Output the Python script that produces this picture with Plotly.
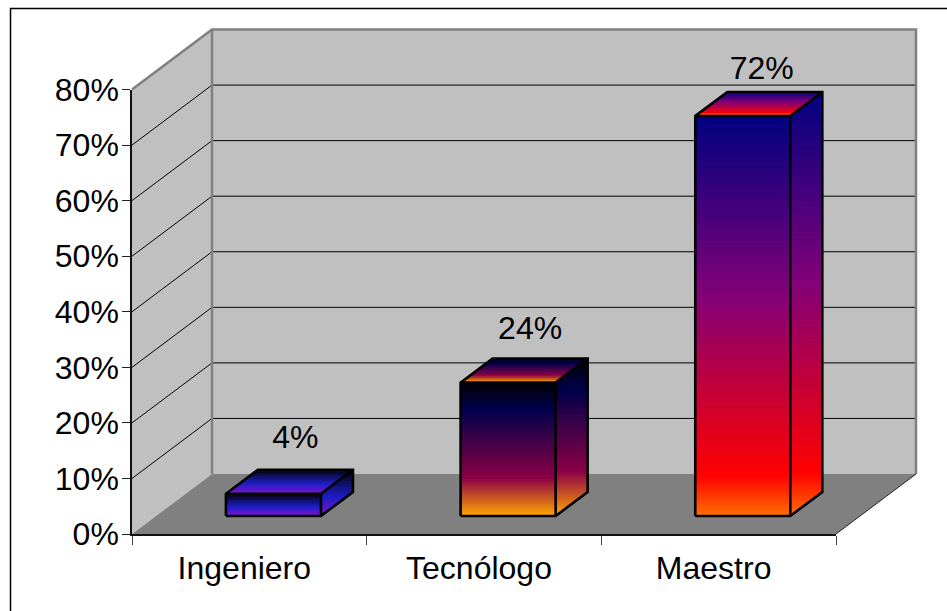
import plotly.graph_objects as go

# Values shown on the chart
categories = ["Ingeniero", "Tecnólogo", "Maestro"]
shares = [4, 24, 72]
value_ticks = [0, 10, 20, 30, 40, 50, 60, 70, 80]
value_tick_labels = ["0%", "10%", "20%", "30%", "40%", "50%", "60%", "70%", "80%"]

# Gradient stops (offset, rgb) for each column's faces
ingeniero_stops = [(0.0, (0, 0, 0)), (0.6, (30, 30, 200)), (1.0, (125, 20, 200))]
tecnologo_stops = [(0.0, (0, 0, 0)), (0.2, (0, 0, 75)), (0.72, (140, 0, 70)), (1.0, (255, 165, 0))]
maestro_stops = [(0.0, (0, 0, 128)), (0.45, (130, 0, 120)), (0.9, (255, 0, 0)), (1.0, (255, 110, 0))]
column_stops = [ingeniero_stops, tecnologo_stops, maestro_stops]

WALL = "#c0c0c0"
FLOOR = "#808080"
FONT = "Liberation Sans"
FONT_SIZE = 32

# Pixel scale of the front plane of the box
W, H = 947, 611
PX_PER_CAT = 234.67
PX_PER_PCT = 5.556
ML, MR, MT, MB = 127, 26, 25, 72
X0_PX, Y0_PX = 132, 534
# Oblique projection: how far one full unit of depth moves a point
DEPTH_X = 80 / PX_PER_CAT
DEPTH_Y = 60 / PX_PER_PCT
# Column placement inside a category slot
BAR_LEFT = 0.298
BAR_WIDTH = 0.405
BAR_D0 = 0.3
BAR_D1 = 0.7
# Per-label offsets in pixels (right, up) from the column's top back edge
LABEL_NUDGE = [(-13, 14), (-13, 12), (-16, 5)]
CAT_LABEL_SHIFT = -5 / PX_PER_CAT
N_CATS = len(categories)
VMAX = value_ticks[-1]

x_range = [(ML - X0_PX) / PX_PER_CAT, (W - MR - X0_PX) / PX_PER_CAT]
y_range = [(Y0_PX - (H - MB)) / PX_PER_PCT, (Y0_PX - MT) / PX_PER_PCT]


def project(cat, value, depth):
    """Map a box position (category, value, depth 0..1) to the plotting plane."""
    return cat + depth * DEPTH_X, value + depth * DEPTH_Y


def shade(stops, t):
    for (t0, c0), (t1, c1) in zip(stops, stops[1:]):
        if t <= t1:
            f = (t - t0) / (t1 - t0)
            rgb = [round(a + (b - a) * f) for a, b in zip(c0, c1)]
            return "rgb({},{},{})".format(*rgb)
    return "rgb({},{},{})".format(*stops[-1][1])


def clip_poly(poly, ylo, yhi):
    """Clip a convex polygon to the horizontal band ylo..yhi."""
    def clip(points, keep, cross):
        out = []
        for i, p in enumerate(points):
            q = points[(i + 1) % len(points)]
            if keep(p):
                out.append(p)
            if keep(p) != keep(q):
                f = (cross - p[1]) / (q[1] - p[1])
                out.append((p[0] + (q[0] - p[0]) * f, cross))
        return out
    band = clip(poly, lambda p: p[1] >= ylo, ylo)
    return clip(band, lambda p: p[1] <= yhi, yhi) if band else []


fig = go.Figure()


def polygon(points, fill, line=None, width=0):
    xs = [p[0] for p in points] + [points[0][0]]
    ys = [p[1] for p in points] + [points[0][1]]
    fig.add_trace(go.Scatter(
        x=xs, y=ys, mode="lines", fill="toself", fillcolor=fill,
        line=dict(color=line or fill, width=width),
        hoverinfo="skip", showlegend=False,
    ))


def polyline(segments, color, width):
    xs, ys = [], []
    for seg in segments:
        xs += [p[0] for p in seg] + [None]
        ys += [p[1] for p in seg] + [None]
    fig.add_trace(go.Scatter(
        x=xs, y=ys, mode="lines", line=dict(color=color, width=width),
        hoverinfo="skip", showlegend=False,
    ))


def gradient_face(points, stops):
    """Fill a face with horizontal bands running top to bottom over its extent."""
    ys = [p[1] for p in points]
    lo, hi = min(ys), max(ys)
    n = max(8, min(130, int((hi - lo) * PX_PER_PCT / 2)))
    for i in range(n):
        yhi = hi - (hi - lo) * i / n
        ylo = hi - (hi - lo) * (i + 1) / n
        band = clip_poly(points, ylo, yhi)
        if len(band) >= 3:
            polygon(band, shade(stops, (i + 0.5) / n), width=1)


# Walls and floor of the box
polygon([project(0, 0, 0), project(0, VMAX, 0), project(0, VMAX, 1), project(0, 0, 1)], WALL)
polygon([project(0, 0, 1), project(0, VMAX, 1), project(N_CATS, VMAX, 1), project(N_CATS, 0, 1)], WALL)
polygon([project(0, 0, 0), project(0, 0, 1), project(N_CATS, 0, 1), project(N_CATS, 0, 0)], FLOOR)

# Gridlines across the side and back walls
grid = []
for v in value_ticks[1:-1]:
    grid.append([project(0, v, 0), project(0, v, 1), project(N_CATS, v, 1)])
polyline(grid, "black", 1)

# Wall edges
polyline([[project(0, VMAX, 0), project(0, VMAX, 1), project(N_CATS, VMAX, 1), project(N_CATS, 0, 1)],
          [project(0, VMAX, 1), project(0, 0, 1)]], FLOOR, 2.5)
polyline([[project(N_CATS, 0, 1), project(N_CATS, 0, 0)]], "#202020", 1)

# Columns
for i, (share, stops) in enumerate(zip(shares, column_stops)):
    left = i + BAR_LEFT
    right = left + BAR_WIDTH
    fbl = project(left, 0, BAR_D0)
    fbr = project(right, 0, BAR_D0)
    ftl = project(left, share, BAR_D0)
    ftr = project(right, share, BAR_D0)
    btl = project(left, share, BAR_D1)
    btr = project(right, share, BAR_D1)
    bbr = project(right, 0, BAR_D1)

    gradient_face([fbl, ftl, ftr, fbr], stops)
    gradient_face([fbr, ftr, btr, bbr], stops)
    gradient_face([ftl, btl, btr, ftr], stops)
    polyline([[fbl, ftl, btl, btr, bbr, fbr, fbl], [ftl, ftr, btr], [ftr, fbr]], "black", 2.6)

# Value labels above each column
fig.add_trace(go.Scatter(
    x=[project(i + BAR_LEFT + BAR_WIDTH / 2, s, BAR_D1)[0] + (LABEL_NUDGE[i][0] + 3) / PX_PER_CAT
       for i, s in enumerate(shares)],
    y=[project(0, s, BAR_D1)[1] + LABEL_NUDGE[i][1] / PX_PER_PCT for i, s in enumerate(shares)],
    mode="text",
    text=[f"{s}%" for s in shares],
    textposition="top center",
    textfont=dict(family=FONT, size=FONT_SIZE, color="black"),
    hoverinfo="skip", showlegend=False, cliponaxis=False,
))

# Front-plane axes carrying the ticks and labels
fig.add_trace(go.Scatter(x=[0], y=[0], xaxis="x2", yaxis="y2", mode="markers",
                         marker=dict(opacity=0), hoverinfo="skip", showlegend=False))

plot_w = W - ML - MR
plot_h = H - MT - MB
front_x = [(X0_PX - ML) / plot_w, (X0_PX - ML + N_CATS * PX_PER_CAT) / plot_w]
front_y = [(H - MB - Y0_PX) / plot_h, (H - MB - Y0_PX + VMAX * PX_PER_PCT) / plot_h]

fig.update_layout(
    template="none",
    width=W, height=H, autosize=False,
    margin=dict(l=ML, r=MR, t=MT, b=MB),
    paper_bgcolor="white", plot_bgcolor="rgba(0,0,0,0)",
    showlegend=False,
    xaxis=dict(range=x_range, visible=False, domain=[0, 1], fixedrange=True, automargin=False),
    yaxis=dict(range=y_range, visible=False, domain=[0, 1], fixedrange=True, automargin=False),
    xaxis2=dict(
        domain=front_x, range=[0, N_CATS], anchor="y2", fixedrange=True, automargin=False,
        tickmode="array", tickvals=[i + 0.5 + CAT_LABEL_SHIFT for i in range(N_CATS)], ticktext=categories,
        ticks="outside", ticklen=5, tickcolor="rgba(0,0,0,0)",
        tickfont=dict(family=FONT, size=FONT_SIZE, color="black"),
        showgrid=False, zeroline=False, showline=True, linecolor="#101010", linewidth=1.5,
        minor=dict(tickmode="array", tickvals=list(range(N_CATS + 1)), ticks="outside",
                   ticklen=9, tickcolor="#404040", tickwidth=1, showgrid=False),
    ),
    yaxis2=dict(
        domain=front_y, range=[0, VMAX], anchor="x2", fixedrange=True, automargin=False,
        tickmode="array", tickvals=value_ticks, ticktext=value_tick_labels,
        ticks="outside", ticklen=8, tickcolor="#202020", tickwidth=1, ticklabelstandoff=-3,
        tickfont=dict(family=FONT, size=FONT_SIZE, color="black"),
        showgrid=False, zeroline=False, showline=True, linecolor="#101010", linewidth=1.5,
    ),
    # Chart frame: its right and bottom edges run past the page
    shapes=[dict(
        type="rect", xref="paper", yref="paper", layer="below",
        x0=(10.5 - ML) / plot_w, x1=(W + 5 - ML) / plot_w,
        y0=(H - MB - (H + 5)) / plot_h, y1=(H - MB - 8.5) / plot_h,
        line=dict(color="black", width=1.5), fillcolor="rgba(0,0,0,0)",
    )],
)

fig.write_html("out.html")
